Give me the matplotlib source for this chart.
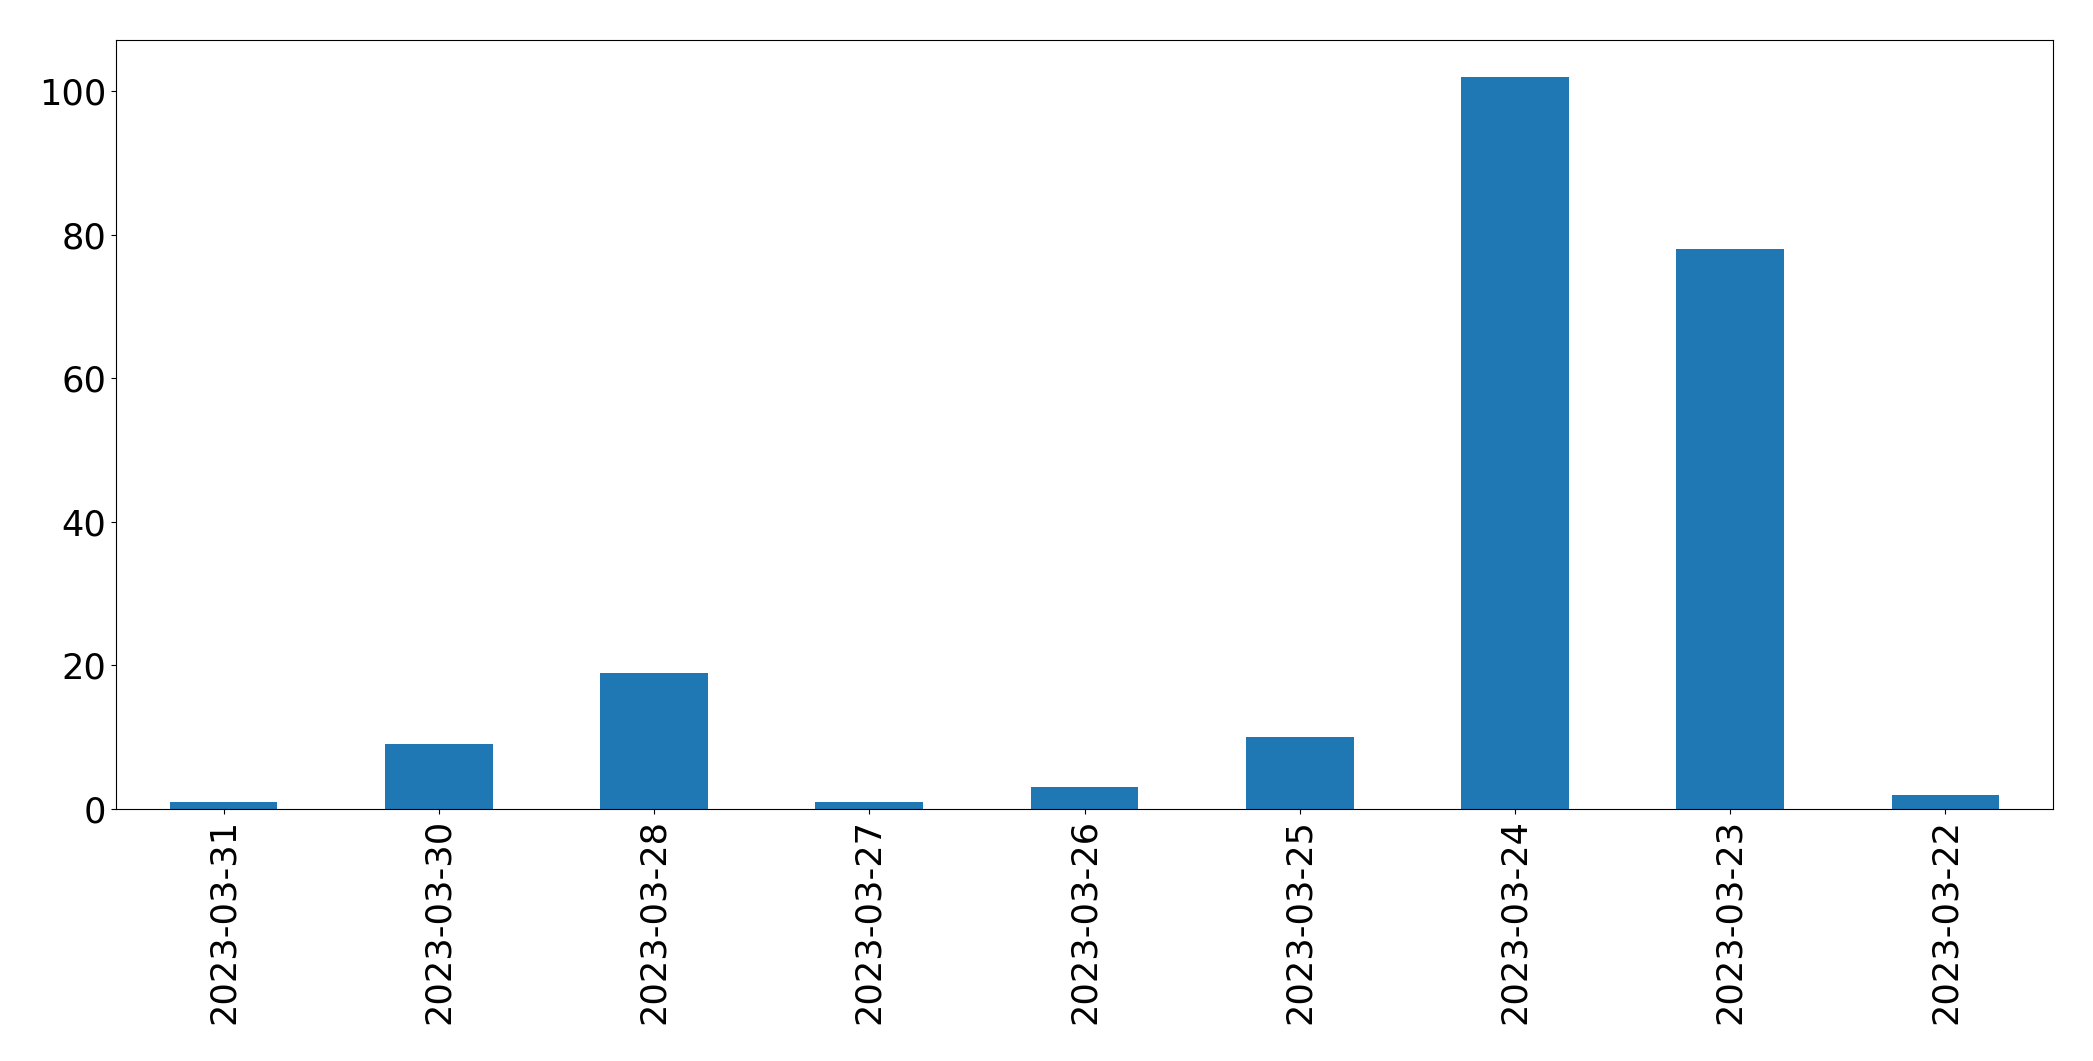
import matplotlib
matplotlib.use('Agg')
import matplotlib.pyplot as plt
import numpy as np

dates = ['2023-03-31', '2023-03-30', '2023-03-28', '2023-03-27', '2023-03-26',
         '2023-03-25', '2023-03-24', '2023-03-23', '2023-03-22']
counts = [1, 9, 19, 1, 3, 10, 102, 78, 2]

fig, ax = plt.subplots(figsize=(20.93, 10.61), dpi=100)
fig.subplots_adjust(left=116/2093, right=2053/2093, top=1-40/1061, bottom=1-809/1061)

x = np.arange(len(dates))
ax.bar(x, counts, width=0.5, color='#1f77b4')
ax.set_xlim(-0.5, len(dates) - 0.5)
ax.set_xticks(x)
ax.set_xticklabels(dates, rotation=90)
ax.tick_params(labelsize=25.3)

plt.savefig('out.png', dpi=100)
